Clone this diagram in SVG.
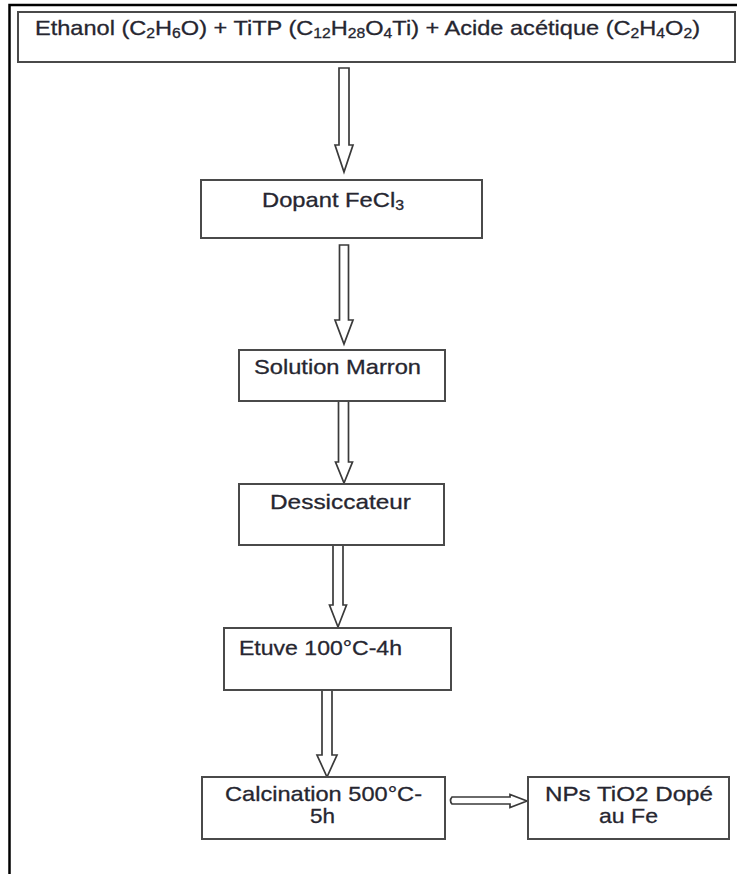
<svg xmlns="http://www.w3.org/2000/svg" width="737" height="874" viewBox="0 0 737 874">
<style>
.box{fill:#fff;stroke:#4a4a4a;stroke-width:2}
.arr{fill:#fff;stroke:#3a3a3a;stroke-width:1.7;stroke-linejoin:miter}
.t{font-family:"Liberation Sans",Arial,sans-serif;font-size:21px;fill:#262630;stroke:#262630;stroke-width:0.3}
.tc{text-anchor:middle}
.frame{stroke:#000;stroke-width:2.5;fill:none}
</style>
<rect width="737" height="874" fill="#fff"/>
<path class="frame" d="M9.5,874 V5 H737"/>

<g id="connectors">
<path class="arr" d="M339,68 H349 V145 H353 L344,172 L335,145 H339 Z"/>
<path class="arr" d="M339.5,245 H348.5 V320 H353 L344,344 L335,320 H339.5 Z"/>
<path class="arr" d="M338.5,401 H348.5 V462 H352.5 L344,483 L335.5,462 H338.5 Z"/>
<path class="arr" d="M333,545 H343 V605 H346.5 L338,627 L329.5,605 H333 Z"/>
<path class="arr" d="M322,690 H332 V755 H337 L327,777 L317,755 H322 Z"/>
<path class="arr" d="M452,797 H510 V794.5 L527,801 L510,807.5 V804 H452 Q449,800.5 452,797 Z"/>
</g>

<g id="n_reactifs">
<rect class="box" x="18" y="12" width="717" height="50"/>
<text class="t" x="35" y="35" font-size="20" textLength="665" lengthAdjust="spacingAndGlyphs">Ethanol (C<tspan font-size="14" dy="3">2</tspan><tspan dy="-3">H</tspan><tspan font-size="14" dy="3">6</tspan><tspan dy="-3">O) + TiTP (C</tspan><tspan font-size="14" dy="3">12</tspan><tspan dy="-3">H</tspan><tspan font-size="14" dy="3">28</tspan><tspan dy="-3">O</tspan><tspan font-size="14" dy="3">4</tspan><tspan dy="-3">Ti) + Acide acétique (C</tspan><tspan font-size="14" dy="3">2</tspan><tspan dy="-3">H</tspan><tspan font-size="14" dy="3">4</tspan><tspan dy="-3">O</tspan><tspan font-size="14" dy="3">2</tspan><tspan dy="-3">)</tspan></text>
</g>

<g id="n_dopant">
<rect class="box" x="201" y="180" width="281" height="58"/>
<text class="t" x="262" y="207" textLength="142" lengthAdjust="spacingAndGlyphs">Dopant FeCl<tspan font-size="14" dy="3">3</tspan></text>
</g>

<g id="n_solution">
<rect class="box" x="239" y="350" width="206" height="51"/>
<text class="t" x="254" y="374" textLength="167" lengthAdjust="spacingAndGlyphs">Solution Marron</text>
</g>

<g id="n_dessiccateur">
<rect class="box" x="239" y="484" width="205" height="61"/>
<text class="t" x="270" y="509" textLength="141" lengthAdjust="spacingAndGlyphs">Dessiccateur</text>
</g>

<g id="n_etuve">
<rect class="box" x="224" y="628" width="227" height="62"/>
<text class="t" x="239" y="655" textLength="163" lengthAdjust="spacingAndGlyphs">Etuve 100°C-4h</text>
</g>

<g id="n_calcination">
<rect class="box" x="202" y="777" width="243" height="62"/>
<text class="t tc" x="323.5" y="801" textLength="197" lengthAdjust="spacingAndGlyphs">Calcination 500°C-</text>
<text class="t tc" x="322.5" y="823" textLength="25" lengthAdjust="spacingAndGlyphs">5h</text>
</g>

<g id="n_nps">
<rect class="box" x="528" y="777" width="201" height="62"/>
<text class="t tc" x="629" y="801" textLength="168" lengthAdjust="spacingAndGlyphs">NPs TiO2 Dopé</text>
<text class="t tc" x="628.5" y="823" textLength="59" lengthAdjust="spacingAndGlyphs">au Fe</text>
</g>
</svg>
